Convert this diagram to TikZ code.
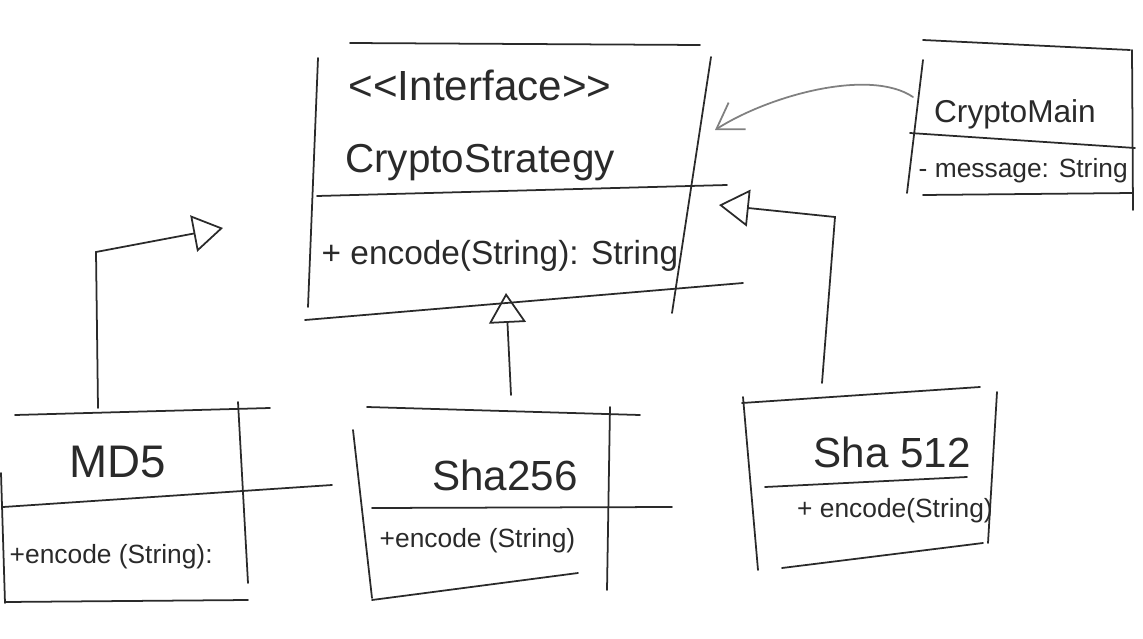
\documentclass[tikz,border=0pt]{standalone}
\usepackage{fontspec}
\setmainfont{Liberation Sans}
\usetikzlibrary{arrows.meta}
\definecolor{ink}{HTML}{2A2A2A}
\definecolor{lightink}{HTML}{808080}

\begin{document}
\begin{tikzpicture}[x=0.02cm, y=-0.02cm, line width=1pt, color=ink, line cap=round,
  classname/.style={font=\fontsize{24}{28}\selectfont, anchor=base},
  member/.style={font=\fontsize{15}{18}\selectfont, anchor=base},
  inherit/.style={-{Triangle[open,length=17pt,width=21pt]}}]

  \useasboundingbox (0,0) rectangle (1143,639);

  % CryptoStrategy (interface)
  \draw (350,43) -- (700,45);
  \draw (318,58) -- (308,307);
  \draw (711,57) -- (672,313);
  \draw (317,196) -- (727,185);
  \draw (305,320) -- (743,283);
  \node[classname] (stereo) at (480,100) {{<}{<}Interface{>}{>}};
  \node[classname, font=\fontsize{23}{28}\selectfont] (strategyName) at (480,172) {CryptoStrategy};
  \node[member, font=\fontsize{19}{22}\selectfont] (strategyOp) at (500,264) {+ encode(String): String};

  % CryptoMain
  \draw (923,40) -- (1130,50);
  \draw (923,60) -- (907,193);
  \draw (1132,50) -- (1133,210);
  \draw (910,133) -- (1135,148);
  \draw (923,195) -- (1133,193);
  \node[classname, font=\fontsize{18}{22}\selectfont] (mainName) at (1015,122) {CryptoMain};
  \node[member, anchor=base west] (mainField) at (912,177) {- message: String};

  % MD5
  \draw (15,415) -- (270,408);
  \draw (1,473) -- (5,603);
  \draw (238,402) -- (248,583);
  \draw (3,507) -- (332,485);
  \draw (5,602) -- (248,600);
  \node[classname, font=\fontsize{26}{30}\selectfont] (md5Name) at (118,477) {MD5};
  \node[member, anchor=base west] (md5Op) at (3,563) {+encode (String):};

  % Sha256
  \draw (367,407) -- (640,415);
  \draw (353,430) -- (372,598);
  \draw (610,407) -- (607,590);
  \draw (372,508) -- (672,507);
  \draw (372,600) -- (578,573);
  \node[classname] (sha256Name) at (505,490) {Sha256};
  \node[member, anchor=base west] (sha256Op) at (373,547) {+encode (String)};

  % Sha512
  \draw (742,403) -- (980,387);
  \draw (743,397) -- (758,570);
  \draw (997,392) -- (988,543);
  \draw (765,487) -- (967,477);
  \draw (782,568) -- (983,543);
  \node[classname] (sha512Name) at (892,467) {Sha 512};
  \node[member] (sha512Op) at (895,517) {+ encode(String)};

  % inheritance arrows
  \coordinate (md5Up) at (98,408);
  \coordinate (md5Tip) at (223,228);
  \draw[inherit] (md5Up) -- (96,252) -- (md5Tip);

  \coordinate (sha256Up) at (511,395);
  \coordinate (sha256Tip) at (506,293);
  \draw[inherit] (sha256Up) -- (sha256Tip);

  \coordinate (sha512Up) at (822,383);
  \coordinate (sha512Tip) at (719,205);
  \draw[inherit] (sha512Up) -- (835,217) -- (sha512Tip);

  % association CryptoMain -> CryptoStrategy
  \coordinate (mainLeft) at (913,97);
  \coordinate (assocTip) at (715,130);
  \draw[lightink, -{Straight Barb[length=14pt,width=18pt]}] (mainLeft) .. controls (870,68) and (770,95) .. (assocTip);

\end{tikzpicture}
\end{document}
